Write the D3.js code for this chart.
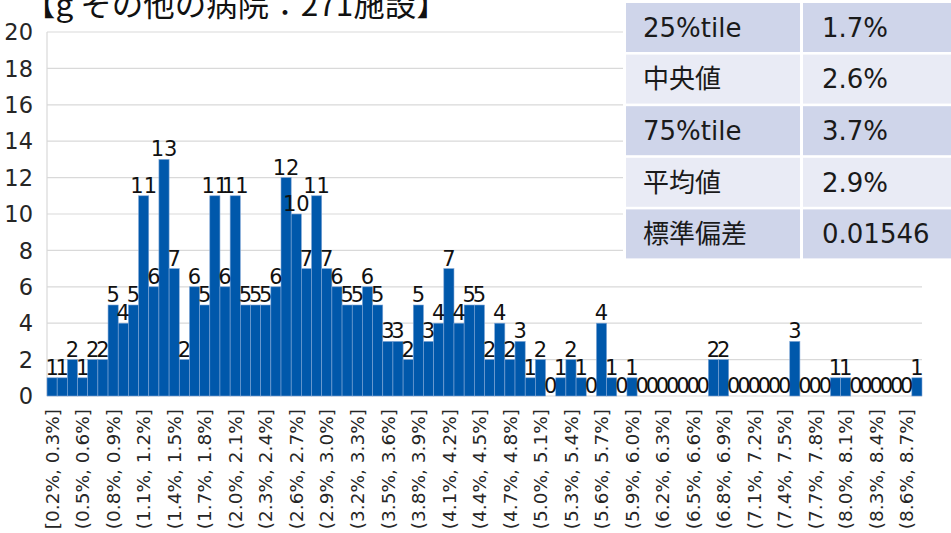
<!DOCTYPE html>
<html><head><meta charset="utf-8">
<script src="https://cdn.jsdelivr.net/npm/d3@7"></script>
<style>
  html,body{margin:0;padding:0;background:#fff;overflow:hidden}
  svg{display:block}
  text{font-family:"DejaVu Sans","Noto Sans CJK JP",sans-serif}
</style>
</head><body>
<div id="chart"></div>
<script>
// 【g その他の病院】 分布ヒストグラム
const W=951, H=533;
const title='【g その他の病院：271施設】';

// 施設数 (0.1% 刻み, 86 ビン)
const counts=[
  1,1,2,1,2,2,5,4,5,11,
  6,13,7,2,6,5,11,6,11,5,
  5,5,6,12,10,7,11,7,6,5,
  5,6,5,3,3,2,5,3,4,7,
  4,5,5,2,4,2,3,1,2,0,
  1,2,1,0,4,1,0,1,0,0,
  0,0,0,0,0,2,2,0,0,0,
  0,0,0,3,0,0,0,1,1,0,
  0,0,0,0,0,1
];
// 3 ビンごとの軸ラベル
const tickLabels=[
  '[0.2%, 0.3%]','(0.5%, 0.6%]','(0.8%, 0.9%]','(1.1%, 1.2%]','(1.4%, 1.5%]',
  '(1.7%, 1.8%]','(2.0%, 2.1%]','(2.3%, 2.4%]','(2.6%, 2.7%]','(2.9%, 3.0%]',
  '(3.2%, 3.3%]','(3.5%, 3.6%]','(3.8%, 3.9%]','(4.1%, 4.2%]','(4.4%, 4.5%]',
  '(4.7%, 4.8%]','(5.0%, 5.1%]','(5.3%, 5.4%]','(5.6%, 5.7%]','(5.9%, 6.0%]',
  '(6.2%, 6.3%]','(6.5%, 6.6%]','(6.8%, 6.9%]','(7.1%, 7.2%]','(7.4%, 7.5%]',
  '(7.7%, 7.8%]','(8.0%, 8.1%]','(8.3%, 8.4%]','(8.6%, 8.7%]'
];
const tickStep=3;
const yTicks=[0,2,4,6,8,10,12,14,16,18,20];

// 統計量テーブル
const statNames=['25%tile','中央値','75%tile','平均値','標準偏差'];
const statValues=['1.7%','2.6%','3.7%','2.9%','0.01546'];

const svg=d3.select('#chart').append('svg').attr('width',W).attr('height',H);

const x=d3.scaleBand().domain(d3.range(counts.length)).range([47,922]).padding(0);
const y=d3.scaleLinear().domain([0,20]).range([396,32]);

// grid
svg.append('g').selectAll('line').data(yTicks).join('line')
  .attr('x1',47).attr('x2',922).attr('y1',d=>y(d)).attr('y2',d=>y(d))
  .attr('stroke','#d9d9d9').attr('stroke-width',1.2);
svg.append('line').attr('x1',47).attr('x2',47).attr('y1',y(20)).attr('y2',y(0))
  .attr('stroke','#d9d9d9').attr('stroke-width',1.2);

// y axis labels
svg.append('g').selectAll('text').data(yTicks).join('text')
  .attr('x',33).attr('y',d=>y(d)).attr('dy','0.36em').attr('text-anchor','end')
  .attr('font-size',22.5).attr('fill','#262626').text(d=>d);

// bars
svg.append('g').selectAll('rect').data(counts).join('rect')
  .attr('x',(d,i)=>x(i)).attr('width',x.bandwidth())
  .attr('y',d=>y(d)).attr('height',d=>y(0)-y(d))
  .attr('fill','#0058AB').attr('stroke','#7fa6d6').attr('stroke-width',0.6);

// data labels
svg.append('g').selectAll('text').data(counts).join('text')
  .attr('x',(d,i)=>x(i)+x.bandwidth()/2).attr('y',d=>y(d)-3)
  .attr('text-anchor','middle').attr('font-size',21).attr('fill','#111')
  .text(d=>d);

// x labels (rotated)
svg.append('g').selectAll('text').data(tickLabels).join('text')
  .attr('transform',(d,k)=>`translate(${x(k*tickStep)+x.bandwidth()/2},409) rotate(-90)`)
  .attr('text-anchor','end').attr('dy','0.36em')
  .attr('font-size',18.5).attr('fill','#262626').text(d=>d);

// title
svg.append('text').attr('x',24).attr('y',16).attr('font-size',31.5).attr('fill','#111')
  .style('font-family','"Noto Sans CJK JP",sans-serif').text(title);

// stats table
const tx0=626, tx1=803, tw0=174, tw1=148, rh=49, rg=2.6;
svg.append('rect').attr('x',tx0-3).attr('y',0).attr('width',W-tx0+3).attr('height',260).attr('fill','#fff');
const rows=svg.append('g').selectAll('g').data(statNames).join('g')
  .attr('transform',(d,i)=>`translate(0,${3+i*(rh+rg)})`);
rows.append('rect').attr('x',tx0).attr('width',tw0).attr('height',rh)
  .attr('fill',(d,i)=>i%2?'#E9EBF5':'#CFD5EA');
rows.append('rect').attr('x',tx1).attr('width',tw1).attr('height',rh)
  .attr('fill',(d,i)=>i%2?'#E9EBF5':'#CFD5EA');
rows.append('text').attr('x',tx0+17).attr('y',rh/2).attr('dy','0.36em')
  .attr('font-size',26).attr('fill','#1a1a1a').text(d=>d);
rows.append('text').attr('x',tx1+19).attr('y',rh/2).attr('dy','0.36em')
  .attr('font-size',26).attr('fill','#1a1a1a').text((d,i)=>statValues[i]);
</script>
</body></html>
